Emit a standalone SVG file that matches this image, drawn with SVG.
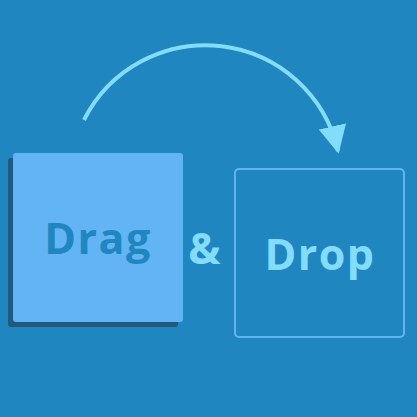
<svg xmlns="http://www.w3.org/2000/svg" width="417" height="417" viewBox="0 0 417 417">
<style>
.t{font-family:"Open Sans","Noto Sans","DejaVu Sans",sans-serif;font-weight:700;font-size:43px;letter-spacing:1.5px;text-anchor:middle}
</style>
<defs>
<marker id="ah" viewBox="0 0 10 10" refX="9" refY="5" markerWidth="7" markerHeight="7" orient="auto" markerUnits="strokeWidth">
<path d="M0,0 L10,5 L0,10 z" fill="#84dcfd"/>
</marker>
</defs>
<rect width="417" height="417" fill="#1f86c0"/>
<g id="connectors">
<path d="M84,120 A136,136 0 0 1 338,151" fill="none" stroke="#84dcfd" stroke-width="4" marker-end="url(#ah)"/>
</g>
<g id="drag">
<rect x="8" y="158" width="170" height="169" rx="3" fill="#225a7b"/>
<rect x="13" y="153" width="170" height="169" rx="3" fill="#63b4f5"/>
<text class="t" x="98" y="254" fill="#1f86c0">Drag</text>
</g>
<g id="amp">
<text class="t" x="205" y="264" fill="#84dcfd">&amp;</text>
</g>
<g id="drop">
<rect x="235" y="169" width="169" height="168" rx="4" fill="none" stroke="#63b4f5" stroke-width="2"/>
<text class="t" x="320" y="270" fill="#84dcfd">Drop</text>
</g>
</svg>
